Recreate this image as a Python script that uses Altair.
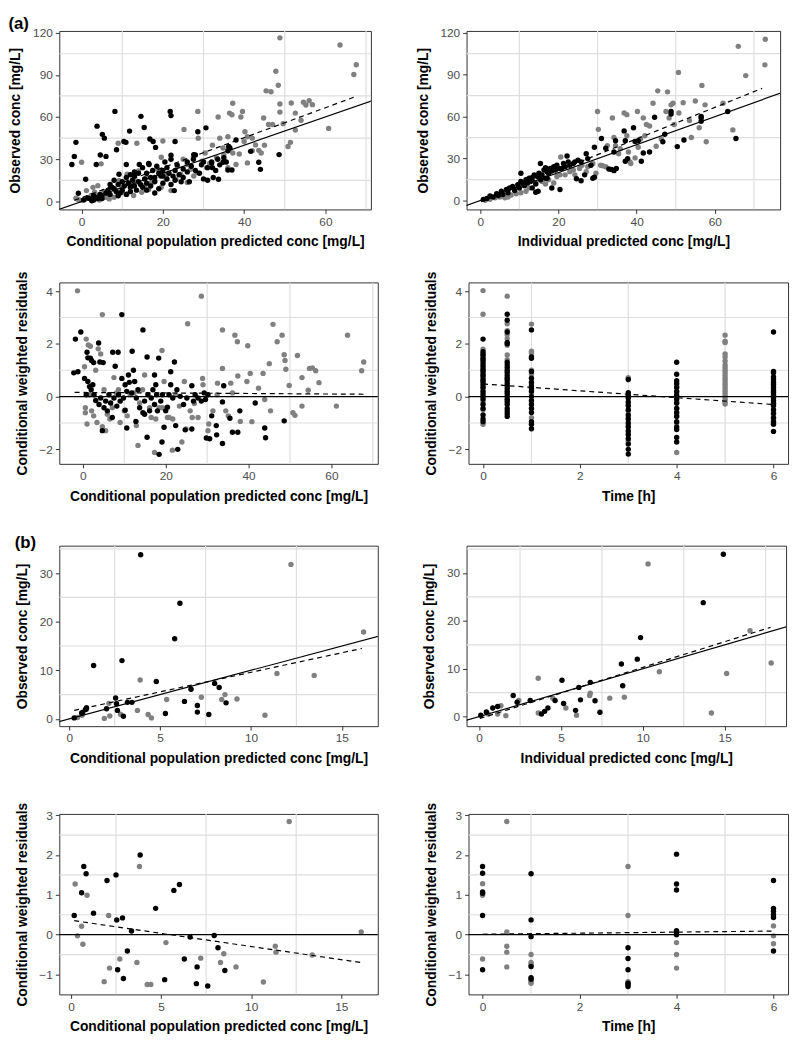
import altair as alt
import pandas as pd

# ---------------- data ----------------
# (a) Observed vs conditional population predicted
a1_black = [(-2.4,26.3),(-1.8,32),(-1.4,42),(-0.8,5.8),(1,15.8),(3.8,53.5),(3.6,26.3),(4.6,33),(5.1,47.7),(5.6,45),(6,32),
            (8.2,64),(8.6,36.7),(9.2,19.3),(10.4,42.6),(10.9,42),(11,26.3),(11.8,50),(14.6,60.5),(15.4,52.6),(14.2,26.3),
            (16.8,44.4),(17.6,42.6),(18.2,38.4),(16.6,26.3),(21.8,64),(22,61),(23,42.6),(22,32.8),(22.8,7.7),(28.6,49.5),
            (30.6,52.3),(27.6,33.3),(32,27.4),(32.4,17),(33.7,15.8),(32.2,24),(34.8,27.9),(35.6,28),(38,43.7),(37,22.3),
            (36,22.3),(36.2,39),(41.6,35.6),(43.6,27.9),(44,22.8),(48.6,33.3),
            (2,2),(3,1),(4,3),(5,4),(5,2),(6,6),(6.5,8),(7,5),(7.5,10),(8,9),(8.5,7),(9,12),(9,4),(10,8),(10,14),(10.5,11),
            (11,5),(11,17),(11.5,13),(12,10),(12,19),(12.5,15),(13,11),(13,18),(13.5,8),(14,14),(14,20),(14.5,12),(15,10),
            (15,24),(15.5,16),(16,13),(16,20),(16.5,27),(17,17),(17,11),(17.5,22),(18,6),(18,14),(18.5,25),(19,20),(19,9),
            (19.5,18),(20,22),(20,13),(20.5,28),(21,16),(21,24),(21.5,20),(22,12),(22,30),(22.5,18),(23,22),(23,15),
            (23.5,26),(24,19),(24.5,14),(25,23),(25,17),(26,28),(26,21),(26.5,14),(27,25),(27.5,30),(28,22),(28,33),
            (29,20),(29.5,26),(30,28),(30,16),(31,24),(31,15),(32,28),(33,22),(33.5,30),(34,26),(35,31),(36,36),(36.5,38),
            (0.5,1),(1.5,2.5),(2.5,0.5),(3,4),(4,2),(4.5,5),(7,12),(8,15),(9.5,6),(12,7),(13,21),(16,8),(18,17),(20,18)]
a1_gray = [(-1.4,2.3),(0,27.9),(-1,1.5),(-0.4,0.8),(0.8,1.6),(1.6,2.5),(2.4,4.3),(3.2,6.5),(3.6,2.0),(4.4,1.0),(5.2,2.5),
           (6,4.5),(6.8,1.8),(4.8,26.7),(9,41.4),(13.6,41.4),(19.6,31.4),(20,43),(25.2,51.2),(28.6,64),(28.7,45),(32.2,40),
           (33.6,60),(34,45),(36.4,62.8),(37,61.6),(37.2,69.8),(36,46),(39.2,60),(39.6,64),(38.8,33.7),(40,42.6),(40.2,49.5),
           (40.8,46),(40.8,27.4),(42,45),(42.8,40.2),(43.6,36.3),(44.2,34.4),(44.8,59.3),(45.4,78.6),(46.6,78),(46,54.7),
           (47,54.7),(47.8,92.6),(48.4,82.6),(48.8,116.3),(48.8,69.3),(48.8,63.5),(49.6,55.3),(50.8,39),(51.4,42),(51.6,70),
           (52.6,62.8),(52.6,50.7),(54,57.7),(54.6,70.5),(55.2,68.6),(56,71.6),(56.8,68.8),(60.8,51.9),(63.6,111.2),
           (67,90.2),(67.6,97.2),(11.2,19.3),(14,21.6),(16,17),(18,14.7),(18.8,22.8),(20.8,15.8),(22,7.7),(23.6,25),
           (24.4,19.3),(26,26.3),(26.8,22.8),(28.4,20.5),(29.6,28.6),(30.4,34.4),(30.8,24),(34.8,38),(37.2,34.4),(38,26.3),
           (36,24),(33.2,31),(7.2,10),(8.4,8),(11.2,5.3),(12.8,4.2),(14.8,6.5),(6,3),(2.4,1.9),(1.2,7.7),(2.8,10),(4,11.2),
           (9.2,14.7),(10,10),(12.4,11.2),(13.2,14.7),(15.6,11.2),(17.2,13.5),(19.6,10),(23.2,15.8),(27.6,18.1),(26,13.5),
           (5.5,7),(8,3),(10,6.5),(16.5,8.5),(21,19),(25,30),(31.5,27),(35,33),(42,36),(45,40)]
a1_fit_x = [-1.8, 67.5]
a1_fit_y = [0.8, 74.6]

# (a) Observed vs individual predicted
a2_black = [(10.4,19.5),(15.4,26.5),(17.1,16),(20.4,7.9),(22.2,31.9),(24.6,15.6),(25.8,14.2),(26.7,18.4),(27.1,33.5),
            (28.8,16),(29.2,16.7),(29.2,38.1),(31,44.4),(32.1,37.4),(32.9,22.6),(33.6,22.3),(34.2,21.4),(34.8,23),
            (34.6,42.8),(34.2,34.7),(36.8,49.8),(37.1,28.1),(37.7,30),(37.1,42.8),(39.2,52.1),(39.6,42.3),(40.4,42.8),
            (41.2,28.1),(41.7,34),(43.3,34.7),(44.6,59.5),(46.7,42.1),(47.2,47.4),(48.8,63.7),(48.8,61.9),(50.4,38.6),
            (52.1,43.3),(56.5,56.7),(56.5,59),(56.5,60.2),(63.3,63.7),(65.4,44.4),
            (0.8,0.9),(1.7,1.6),(2.5,3.3),(3.3,2.6),(4.2,4.9),(4.6,3.7),(5.4,6.7),(5.8,4.4),(6.7,7.9),(7.1,5.6),(7.5,9.1),
            (8.3,10.2),(8.8,7.2),(9.6,11.4),(10,9.1),(10.4,13.7),(10.8,12.6),(11.3,10.7),(11.7,14.9),(12.1,12.6),(12.5,16),
            (12.9,13.7),(13.3,16.5),(13.8,18.4),(14.2,11.9),(14.6,17.2),(15,19.5),(15.4,14.9),(15.8,18.4),(16.3,21.9),
            (16.7,23.5),(17.1,20.7),(17.5,19.5),(17.9,23),(18.3,21.2),(18.8,24.2),(19.2,21.9),(19.6,25.3),(20,23),(20.8,23),
            (21.3,26.5),(21.7,24.2),(22.5,27.7),(22.9,25.3),(23.8,26.5),(24.2,27.7),(25,28.8),(25.8,27.7),(27.5,30),
            (28.3,25.3),(14.2,6),(14.8,6.7),(18.3,9),(16.7,16),(13.3,9.1)]
a2_gray = [(1.3,0.2),(2.5,0.9),(3.8,2.1),(5,2.6),(6.3,2.1),(7.1,2.6),(7.9,4),(9.2,4.9),(10.4,5.6),(11.7,6.7),(12.5,9.1),
           (14.2,12.6),(15.8,13.7),(16.7,11.9),(17.5,14.9),(18.8,12.6),(19.6,17.2),(20.4,18.4),(20.6,31.2),(21.7,18.4),
           (22.9,20.7),(23.8,21.9),(24.2,18.4),(25.4,23),(26,25.3),(27.1,20.7),(27.5,24.2),(28.8,26.5),(29.6,19.5),(30,63.7),
           (30.2,50.9),(30.8,25.3),(31.3,24.9),(32.1,24.2),(32.5,39.3),(33.8,59.1),(34.2,45.1),(34.6,39.3),(35.4,33.5),
           (35.8,37),(36.8,62.6),(37.5,61.4),(37.5,46.3),(37.9,34.7),(38.3,27.7),(38.5,26.5),(39.6,30.5),(40.2,63.7),
           (40.4,38.1),(41,44),(41.7,59.1),(42.1,46.3),(42.5,54.4),(43.3,53.3),(44.2,69.5),(45,38.8),(45.4,78.4),(46.3,44),
           (47.5,63.7),(47.9,77.7),(48.3,59.1),(48.8,68.4),(49.3,69.5),(49.6,54.4),(50.7,91.6),(50.8,62.6),(51.9,70),
           (53.5,57.2),(54,45.1),(55,71.2),(56,52.1),(56.7,82.3),(57.5,68.4),(57.8,42.1),(62.1,69.5),(64.6,50.5),
           (66,110.2),(67.9,89.3),(72.8,97),(72.9,115.3)]
a2_fit_x = [0.2, 72.1]
a2_fit_y = [-0.7, 80.2]

# (a) CWRES vs conditional population predicted
a3_black = [(-1.8,2.18),(-0.5,2.45),(-2.2,0.9),(-1.2,0.94),(1,1.68),(1.2,1.47),(1.8,1.46),(2.1,1.37),(1.6,0.38),(2.6,1.29),
            (3.8,2.03),(4.1,1.31),(4.9,1.29),(4.7,-1.29),(7.2,1.68),(7.8,1.15),(8.5,1.68),(9.4,3.11),(10.2,-0.52),
            (10.6,-1.19),(11.2,0.54),(11.9,1.72),(12.2,1.0),(12.8,-0.94),(14.5,2.53),(15.5,1.5),(15.5,-1.54),(14.9,-0.67),
            (17.3,0.82),(18.3,1.46),(18.4,-2.19),(19.1,-1.72),(19.2,0.07),(19.6,-1.16),(20.4,-0.4),(21.2,0.94),(22.1,1.31),
            (22.9,-2.0),(22.4,-1.1),(24.3,-0.3),(24.7,-1.26),(26.3,-1.23),(26.3,0.41),(29.3,0.14),(29.8,-1.57),(30.6,-1.6),
            (31.1,-0.73),(32.2,-1.1),(32.3,-1.45),(33.7,-1.78),(34,0.41),(33.7,-0.2),(35.5,-0.82),(36.1,-1.35),
            (37.4,-1.35),(37.9,-0.54),(41.6,-0.24),(43.9,-1.19),(44.1,-1.56),(48.6,-0.92),
            (0.4,0.69),(0.8,0.07),(1.2,0.57),(2,0.26),(2.4,0.45),(2.7,0.07),(3.1,-0.15),(3.9,-0.3),(4.3,-0.05),(5.1,-0.42),
            (5.5,-0.17),(5.9,-0.54),(6.3,0.07),(6.7,-0.24),(7.1,-0.79),(7.5,-0.05),(8.2,-0.36),(8.6,0.07),(9,-0.17),
            (9.4,0.69),(9.8,-0.05),(10.2,0.45),(10.6,0.2),(11,0.82),(11.8,0.14),(12.5,0.57),(12.9,-0.05),(13.3,0.26),
            (13.7,-0.42),(14.5,-0.61),(14.9,-0.17),(15.7,0.07),(16.1,-0.54),(16.5,-0.05),(16.9,0.26),(17.3,-0.3),
            (17.6,0.45),(17.8,0.07),(18,-0.54),(18.8,-0.17),(20,-0.54),(20.8,0.07),(21.2,0.45),(21.7,-0.05),(22.7,0.26),
            (23.5,0.01),(25.1,-0.05),(26.7,-0.17),(27.1,0.07),(27.8,-0.05),(28.6,-0.17),(29.6,-0.11),(30.2,0.07)]
a3_gray = [(-1.3,4.01),(4.7,3.11),(28.6,3.81),(25.3,2.76),(33.7,2.53),(36.7,2.33),(37.3,2.08),(39.8,1.93),(40.4,0.88),
           (39.6,0.57),(45.9,2.74),(46.9,2.08),(48.1,2.33),(48.6,1.59),(48.8,1.37),(49.0,1.04),(49.8,0.42),(45,1.25),
           (45.3,-0.54),(43.9,-0.11),(43.5,0.88),(42.4,0.32),(40.8,-0.95),(38,-0.94),(37.4,0.78),(35.7,0.51),(36.1,0.14),
           (33.7,1.07),(32.5,0.51),(28.9,0.69),(26.9,-0.26),(27.8,-0.79),(30.2,-1.29),(30.4,-1.04),(23.9,-1.72),
           (21.6,-2.03),(17.3,-2.12),(13.3,-1.85),(12.9,-1.1),(19.2,-0.42),(20.4,-0.79),(21.7,-0.85),(24.9,-1.23),
           (51.8,1.56),(50.7,-0.61),(51.2,-0.71),(52.9,0.72),(52.9,-0.36),(54.7,1.07),(55.4,1.09),(56.2,0.98),(57,0.53),
           (54.4,0.24),(61.2,-0.36),(63.9,2.33),(67.3,0.98),(67.8,1.31),
           (0.4,1.13),(0.8,2.18),(1.3,1.96),(1.8,1.91),(1,-1.04),(0.6,-0.42),(0.6,-0.61),(1.6,0.07),(2.1,-0.54),(2.6,-0.73),
           (3.1,1.0),(3.4,-0.98),(3.7,1.81),(4.3,1.62),(4.7,-1.14),(5.1,0.26),(5.5,-1.29),(5.9,-0.67),(6.5,-0.85),
           (7.1,-0.42),(7.5,0.72),(8.1,0.14),(8.6,0.26),(9,-0.98),(10,-0.54),(10.7,-0.73),(11.4,0.07),(12.3,0.14),
           (13.7,-0.24),(14.4,0.26),(14.9,0.82),(16.1,-0.42),(16.5,-0.79),(17.6,-0.85),(18.4,-0.42),(19.1,1.75),(19.6,0.57),
           (20.8,-0.79),(22.4,0.07),(23.3,-0.36),(24.5,0.57),(25.9,-0.54),(26.4,-0.79),(29,0.45),(31.4,-0.54),(32.4,0.07),
           (34.5,-0.54),(35.1,-0.73)]
a3_fit_x = [-2.0, 67.8]
a3_fit_y = [0.16, 0.09]

# (a) CWRES vs time
a4_black = ([(0, v) for v in [2.18,1.7,1.62,1.55,1.45,1.35,1.25,1.15,1.05,0.95,0.85,0.75,0.65,0.55,0.45,0.35,0.2,0.1,0.0,
                               -0.1,-0.3,-0.45,-0.7,-0.85,-0.95]]
            + [(0.5, v) for v in [3.12,2.9,2.45,2.05,2.0,1.3,1.2,1.1,1.0,0.9,0.8,0.7,0.6,0.5,0.4,0.3,0.2,0.1,0.0,-0.1,
                                   -0.2,-0.3,-0.45,-0.55,-0.65,-0.75]]
            + [(1, v) for v in [2.53,1.5,1.45,0.95,0.7,0.55,0.4,0.3,0.2,0.0,-0.15,-0.3,-0.45,-0.6,-0.95,-1.05,-1.22]]
            + [(3, v) for v in [0.65,0.15,0.05,-0.05,-0.2,-0.35,-0.5,-0.7,-0.85,-1.0,-1.15,-1.3,-1.45,-1.6,-1.8,-2.0,-2.18]]
            + [(4, v) for v in [1.3,0.85,0.6,0.5,0.35,0.2,0.05,-0.1,-0.25,-0.45,-0.6,-0.75,-0.95,-1.15,-1.25,-1.55,-1.72]]
            + [(6, v) for v in [2.45,0.95,0.9,0.75,0.65,0.55,0.45,0.35,0.25,0.15,0.05,-0.05,-0.15,-0.25,-0.35,-0.5,
                                 -0.65,-0.8,-0.95,-1.05,-1.32]])
a4_gray = ([(0, v) for v in [4.02,3.12,1.8,1.4,1.0,0.8,0.6,0.3,-0.2,-0.5,-1.05]]
           + [(0.5, v) for v in [3.81,2.76,2.5,2.35,2.2,1.95,1.58,1.4,0.95,0.7,0.15,-0.15]]
           + [(1, v) for v in [2.75,1.72,1.65,1.0,0.85,0.5,0.1,-0.2,-0.8]]
           + [(3, v) for v in [0.72,0.0,-0.3,-0.55,-0.8,-1.1,-1.4,-1.7]]
           + [(4, v) for v in [0.4,0.15,0.0,-0.2,-0.45,-0.7,-1.0,-2.12]]
           + [(5, v) for v in [2.33,2.1,2.05,1.62,1.5,1.35,1.2,1.1,1.0,0.9,0.8,0.7,0.6,0.5,0.4,0.3,0.2,0.1,0.0,-0.1,
                                -0.2,-0.28]]
           + [(6, v) for v in [0.5,0.2,-0.3,-0.6,-0.85,-1.0]])
a4_fit_x = [0, 6]
a4_fit_y = [0.48, -0.3]

# (b) Observed vs conditional population predicted
b1_black = [(0.27,0.2),(0.68,1.2),(0.75,1.4),(0.9,1.95),(0.95,2.3),(1.34,11.0),(2.05,2.1),(2.55,4.3),(2.6,3.1),(2.65,1.75),
            (2.9,12.0),(2.98,0.55),(3.2,3.4),(3.45,3.4),(3.93,33.8),(4.79,7.7),(5.29,1.1),(5.8,16.5),(6.09,23.8),(6.34,3.6),
            (6.7,6.1),(7.05,2.75),(7.05,1.4),(7.68,0.9),(8.0,7.3),(8.25,6.45),(8.63,3.3)]
b1_gray = [(0.45,0.3),(0.7,0.75),(0.95,2.0),(1.93,0.1),(2.18,3.2),(2.23,0.6),(2.82,0.95),(3.75,1.75),(3.9,8.0),(4.34,0.9),
           (4.52,0.2),(5.36,4.0),(7.27,4.45),(8.39,4.0),(8.57,5.0),(9.23,4.1),(10.77,0.75),(11.43,9.35),(12.2,31.8),
           (13.48,8.95),(16.2,17.9)]
b1_fit_x = [0.27, 16.1]
b1_fit_y = [1.75, 14.5]

# (b) Observed vs individual predicted
b2_black = [(0.1,0.28),(0.44,0.96),(0.83,1.8),(1.13,2.1),(2.08,4.4),(2.32,3.0),(3.12,3.37),(3.81,0.55),(4.0,1.1),(4.2,1.8),
            (4.64,3.37),(5.06,7.6),(5.16,2.75),(5.89,1.3),(6.09,6.1),(6.19,3.5),(6.79,7.15),(7.08,3.3),(7.38,0.9),
            (8.69,11.0),(8.77,6.45),(9.66,12.0),(9.86,16.5),(13.69,23.8),(14.92,33.9)]
b2_gray = [(0.54,0.55),(1.13,0.55),(1.33,2.27),(1.63,0.2),(2.42,3.37),(3.61,8.0),(3.61,0.75),(4.5,3.85),(5.3,1.8),
           (5.95,0.28),(6.75,4.4),(6.79,4.9),(7.98,3.85),(8.87,4.06),(10.32,31.9),(11.01,9.36),(14.19,0.75),(15.12,9.0),
           (16.55,17.96),(17.84,11.2)]
b2_fit_x = [0.04, 17.8]
b2_fit_y = [-0.4, 18.65]

# (b) CWRES vs conditional population predicted
b3_black = [(0.18,0.48),(0.59,1.05),(0.71,1.71),(0.84,1.53),(1.25,0.54),(2.0,1.36),(2.5,1.5),(2.54,0.37),(2.59,-0.88),
            (2.86,0.42),(2.91,-1.1),(3.13,-0.41),(3.36,0.09),(3.84,2.0),(4.7,0.66),(5.2,-1.13),(5.71,1.11),(6.02,1.26),
            (6.61,-0.06),(6.29,-0.61),(7.0,-0.81),(6.96,-1.23),(7.59,-1.29),(7.95,-0.02),(8.16,-0.33),(8.54,-0.9)]
b3_gray = [(0.23,1.27),(0.36,-0.03),(0.59,0.21),(0.66,-0.24),(0.89,0.99),(1.84,-1.18),(2.09,0.48),(2.14,-0.84),(2.71,-0.61),
           (3.66,-0.7),(3.8,1.71),(4.23,-1.25),(4.43,-1.25),(5.27,-0.2),(7.2,-0.59),(8.3,-0.7),(8.48,-0.48),(9.16,-0.81),
           (10.68,-1.19),(11.34,-0.29),(11.38,-0.44),(12.11,2.84),(13.39,-0.51),(16.11,0.07)]
b3_fit_x = [0.18, 16.1]
b3_fit_y = [0.35, -0.7]

# (b) CWRES vs time
b4_black = ([(0, v) for v in [1.71,1.54,1.07,1.04,0.48,-0.88]]
            + [(1, v) for v in [1.53,0.37,-0.05,-0.8,-1.08,-1.12]]
            + [(3, v) for v in [-0.33,-0.6,-0.88,-1.22,-1.25,-1.3]]
            + [(4, v) for v in [2.02,1.27,1.12,0.1,0.05,0.0]]
            + [(6, v) for v in [1.36,0.66,0.59,0.5,0.43,-0.41]])
b4_gray = ([(0, v) for v in [1.28,0.99,-0.61]]
           + [(0.5, v) for v in [2.84,0.07,-0.29,-0.44,-0.81]]
           + [(1, v) for v in [-0.5,-0.7,-0.75,-1.18,-1.22]]
           + [(3, v) for v in [1.71,0.48,-1.18]]
           + [(4, v) for v in [-0.2,-0.5,-0.84]]
           + [(6, v) for v in [0.22,-0.03,-0.23]])
b4_fit_x = [0, 6]
b4_fit_y = [0.01, 0.09]

# axis ticks and (minor) grid positions
a_conc_ticks = [0, 20, 40, 60]
a_conc_grid = [10, 30, 50, 70]
a_obs_ticks = [0, 30, 60, 90, 120]
a_obs_grid = [15, 45, 75, 105]
a_res_ticks = [-2, 0, 2, 4]
a_res_grid = [-1, 1, 3]
time_ticks = [0, 2, 4, 6]
time_grid = [1, 3, 5]
b_conc_ticks = [0, 5, 10, 15]
b_conc_grid = [2.5, 7.5, 12.5, 17.5]
b_obs_ticks = [0, 10, 20, 30]
b_obs_grid = [5, 15, 25, 35]
b_res_ticks = [-1, 0, 1, 2, 3]
b_res_grid = [-0.5, 0.5, 1.5, 2.5]

identity_range = [-10, 200]
zero_level = [0]

XT_CPRED = "Conditional population predicted conc [mg/L]"
XT_IPRED = "Individual predicted conc [mg/L]"
XT_TIME = "Time [h]"
YT_OBS = "Observed conc [mg/L]"
YT_RES = "Conditional weighted residuals"

GRAY = "#808080"
BLACK = "#000000"
GRIDC = "#DEDEDE"


def pts_df(pairs):
    return pd.DataFrame(pairs, columns=["x", "y"])


def panel(black, gray, fit_x, fit_y, ref, xdom, ydom, xticks, yticks, xgrid, ygrid, xtitle, ytitle, w, h):
    xs = alt.Scale(domain=xdom, nice=False, zero=False)
    ys = alt.Scale(domain=ydom, nice=False, zero=False)
    ax = alt.Axis(values=xticks, title=xtitle, grid=False)
    ay = alt.Axis(values=yticks, title=ytitle, grid=False)

    def X():
        return alt.X("x:Q", scale=xs, axis=ax)

    def Y():
        return alt.Y("y:Q", scale=ys, axis=ay)

    gx = alt.Chart(pd.DataFrame({"x": xgrid})).mark_rule(color=GRIDC, strokeWidth=1.2, clip=True).encode(x=X())
    gy = alt.Chart(pd.DataFrame({"y": ygrid})).mark_rule(color=GRIDC, strokeWidth=1.2, clip=True).encode(y=Y())

    fit = alt.Chart(pd.DataFrame({"x": fit_x, "y": fit_y})).mark_line(
        color=BLACK, strokeDash=[5, 4], strokeWidth=1.2, clip=True
    ).encode(x=X(), y=Y())

    if ref == "identity":
        refl = alt.Chart(pd.DataFrame({"x": identity_range, "y": identity_range})).mark_line(
            color=BLACK, strokeWidth=1.2, clip=True
        ).encode(x=X(), y=Y())
    else:
        refl = alt.Chart(pd.DataFrame({"y": zero_level})).mark_rule(
            color=BLACK, strokeWidth=1.2
        ).encode(y=Y())

    g = alt.Chart(pts_df(gray)).mark_circle(size=30, opacity=1, color=GRAY).encode(x=X(), y=Y())
    b = alt.Chart(pts_df(black)).mark_circle(size=30, opacity=1, color=BLACK).encode(x=X(), y=Y())

    return alt.layer(gx, gy, g, b, fit, refl).properties(width=w, height=h)


pa1 = panel(a1_black, a1_gray, a1_fit_x, a1_fit_y, "identity", [-5.5, 71.2], [-5.7, 121.2],
            a_conc_ticks, a_obs_ticks, a_conc_grid, a_obs_grid, XT_CPRED, YT_OBS, 316, 181)
pa2 = panel(a2_black, a2_gray, a2_fit_x, a2_fit_y, "identity", [-3.5, 76.7], [-6.3, 121.2],
            a_conc_ticks, a_obs_ticks, a_conc_grid, a_obs_grid, XT_IPRED, YT_OBS, 318, 181)
pa3 = panel(a3_black, a3_gray, a3_fit_x, a3_fit_y, "zero", [-5.7, 71.2], [-2.55, 4.33],
            a_conc_ticks, a_res_ticks, a_conc_grid, a_res_grid, XT_CPRED, YT_RES, 323, 184)
pa4 = panel(a4_black, a4_gray, a4_fit_x, a4_fit_y, "zero", [-0.3, 6.3], [-2.55, 4.33],
            time_ticks, a_res_ticks, time_grid, a_res_grid, XT_TIME, YT_RES, 324, 184)
pb1 = panel(b1_black, b1_gray, b1_fit_x, b1_fit_y, "identity", [-0.55, 16.98], [-1.5, 35.65],
            b_conc_ticks, b_obs_ticks, b_conc_grid, b_obs_grid, XT_CPRED, YT_OBS, 323, 183)
pb2 = panel(b2_black, b2_gray, b2_fit_x, b2_fit_y, "identity", [-0.77, 18.75], [-2.0, 35.7],
            b_conc_ticks, b_obs_ticks, b_conc_grid, b_obs_grid, XT_IPRED, YT_OBS, 324, 183)
pb3 = panel(b3_black, b3_gray, b3_fit_x, b3_fit_y, "zero", [-0.65, 17.03], [-1.5, 3.03],
            b_conc_ticks, b_res_ticks, b_conc_grid, b_res_grid, XT_CPRED, YT_RES, 323, 183)
pb4 = panel(b4_black, b4_gray, b4_fit_x, b4_fit_y, "zero", [-0.29, 6.3], [-1.5, 3.03],
            time_ticks, b_res_ticks, time_grid, b_res_grid, XT_TIME, YT_RES, 324, 183)

group_a = alt.vconcat(
    alt.hconcat(pa1, pa2, spacing=44),
    alt.hconcat(pa3, pa4, spacing=44),
    spacing=21,
    title=alt.Title("(a)", anchor="start", fontSize=17, fontWeight="bold", offset=-7),
)
group_b = alt.vconcat(
    alt.hconcat(pb1, pb2, spacing=44),
    alt.hconcat(pb3, pb4, spacing=44),
    spacing=35,
    title=alt.Title("(b)", anchor="start", fontSize=17, fontWeight="bold", offset=-7),
)

chart = alt.vconcat(group_a, group_b, spacing=30).properties(
    padding={"left": 0, "top": 0, "right": 0, "bottom": 0}
).configure(font="Liberation Sans").configure_view(
    stroke="#333333", strokeWidth=1
).configure_axis(
    labelFontSize=12, labelColor="#4D4D4D", titleFontSize=14, titleFontWeight="bold", titleColor="#000000",
    tickColor="#333333", tickSize=4, labelPadding=3, domain=False, grid=False, labelFont="Liberation Sans",
    titleFont="Liberation Sans"
).configure_axisX(titlePadding=8).configure_axisY(titlePadding=10).configure_title(
    font="Liberation Sans", color="#000000"
)

chart.save("out.html", embed_options={"renderer": "svg", "actions": False})
